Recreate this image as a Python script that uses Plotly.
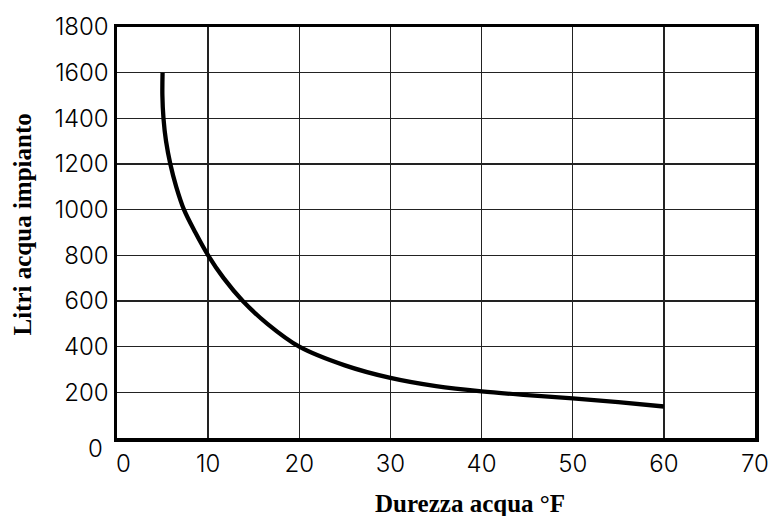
import plotly.graph_objects as go

# Data
durezza = [5.0, 4.98, 5.1, 5.38, 5.85, 6.5, 7.35, 8.6, 10.0, 11.7, 13.8, 16.5, 20, 25, 30, 35, 40, 45, 50, 55, 60]
litri = [1600, 1500, 1400, 1300, 1200, 1100, 1000, 900, 800, 700, 600, 500, 400, 318, 263, 227, 204, 188, 174, 157, 138]

x_ticks = [10, 20, 30, 40, 50, 60, 70]
y_ticks = [200, 400, 600, 800, 1000, 1200, 1400, 1600, 1800]

x_title = "Durezza acqua °F"
y_title = "Litri acqua impianto"

tick_font = dict(family="Inter", size=24, color="black", weight=300)
title_font = dict(family="Liberation Serif", size=25, color="black", weight="bold")

fig = go.Figure()
fig.add_trace(go.Scatter(
    x=durezza, y=litri, mode="lines",
    line=dict(color="black", width=4.3, shape="spline", smoothing=1),
    showlegend=False, hoverinfo="skip",
))

fig.update_layout(
    width=770, height=516,
    margin=dict(l=117, r=15, t=27, b=78),
    paper_bgcolor="white", plot_bgcolor="white",
    xaxis=dict(
        range=[0, 70], tickvals=x_ticks, ticktext=[str(v) for v in x_ticks],
        showgrid=True, gridcolor="#222", gridwidth=1.3,
        showline=True, linecolor="black", linewidth=3.5, mirror=True,
        zeroline=False, ticks="", tickfont=tick_font, ticklabelstandoff=2,
        automargin=False,
    ),
    yaxis=dict(
        range=[0, 1800], tickvals=y_ticks, ticktext=[str(v) for v in y_ticks],
        showgrid=True, gridcolor="#222", gridwidth=1.3,
        showline=True, linecolor="black", linewidth=3.5, mirror=True,
        zeroline=False, ticks="", tickfont=tick_font, ticklabelstandoff=0,
        automargin=False,
    ),
    annotations=[
        dict(x=0, y=0, xref="x", yref="y", text="0", showarrow=False,
             font=tick_font, xanchor="right", yanchor="middle", xshift=-12, yshift=-10),
        dict(x=0, y=0, xref="x", yref="y", text="0", showarrow=False,
             font=tick_font, xanchor="left", yanchor="middle", xshift=-3, yshift=-25),
        dict(x=0.5, y=0, xref="paper", yref="paper", text=x_title, showarrow=False,
             font=title_font, xanchor="center", yanchor="middle", xshift=34, yshift=-65),
        dict(x=0, y=0.5, xref="paper", yref="paper", text=y_title, showarrow=False,
             font=title_font, textangle=-90, xanchor="center", yanchor="middle",
             xshift=-95, yshift=8),
    ],
)

# remove the browser's default 8px body margin so the figure fills the window exactly
fig.write_html(
    "out.html",
    config={"displayModeBar": False, "staticPlot": True},
    post_script="document.body.style.margin='0';document.body.style.overflow='hidden';",
)
